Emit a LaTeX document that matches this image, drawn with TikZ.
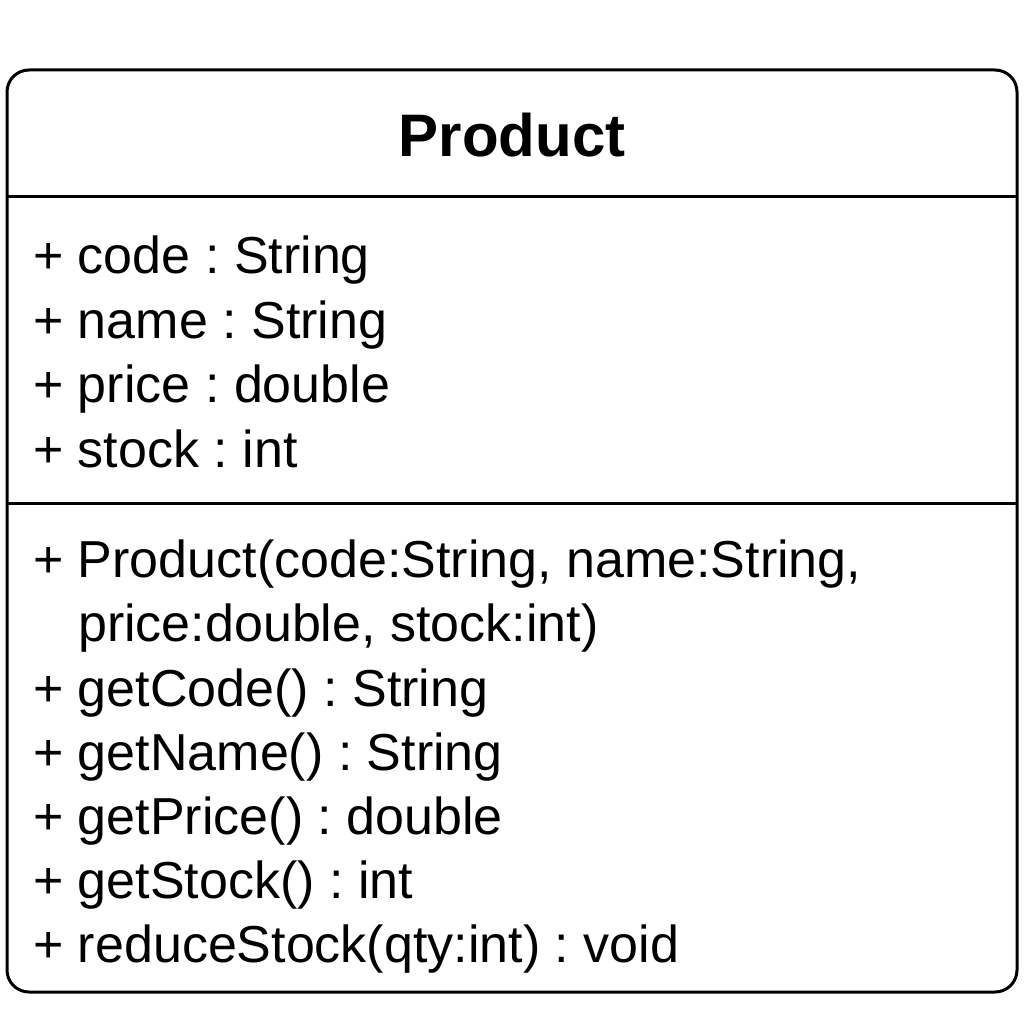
\documentclass[tikz,border=0pt]{standalone}
\usepackage{fontspec}
\setmainfont{Liberation Sans}
\frenchspacing
\begin{document}
\begin{tikzpicture}[x=1pt,y=-1pt,
  boxline/.style={line width=3pt,draw=black},
  member/.style={anchor=base west,inner sep=0pt,font=\fontsize{52}{60}\selectfont},
  titletext/.style={anchor=base,inner sep=0pt,font=\fontsize{60}{70}\selectfont\bfseries}]
\useasboundingbox (0,0) rectangle (1024,1024);
\draw[boxline,rounded corners=22pt] (7,70) rectangle (1017,992);
\coordinate (d1l) at (7,197);
\coordinate (d1r) at (1017,197);
\coordinate (d2l) at (7,503);
\coordinate (d2r) at (1017,503);
\draw[boxline] (d1l) -- (d1r);
\draw[boxline] (d2l) -- (d2r);
\node[titletext] (title) at (512,157) {Product};
\node[member] (a1) at (33,273) {+ code : String};
\node[member] (a2) at (33,338) {+ name : String};
\node[member] (a3) at (33,402) {+ price : double};
\node[member] (a4) at (33,467) {+ stock : int};
\node[member] (m1) at (33,577) {+ Product(code:String, name:String,};
\node[member] (m1b) at (78,641) {price:double, stock:int)};
\node[member] (m2) at (33,706) {+ getCode() : String};
\node[member] (m3) at (33,770) {+ getName() : String};
\node[member] (m4) at (33,834) {+ getPrice() : double};
\node[member] (m5) at (33,898) {+ getStock() : int};
\node[member] (m6) at (33,962) {+ reduceStock(qty:int) : void};
\end{tikzpicture}
\end{document}
